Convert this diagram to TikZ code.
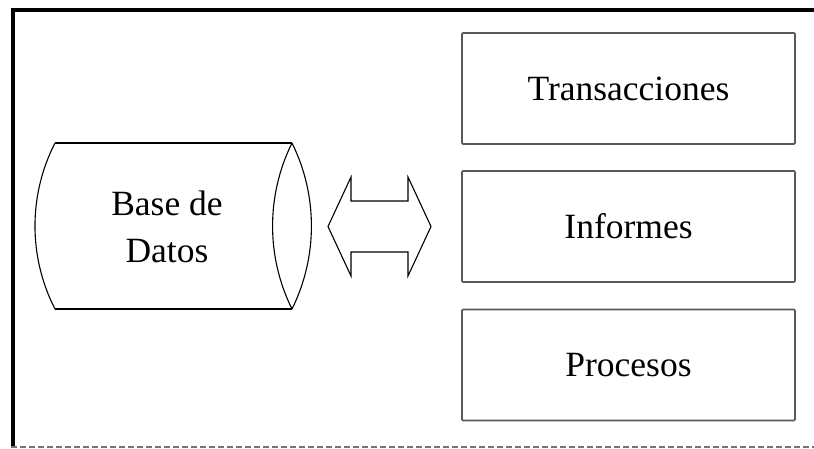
\documentclass[tikz,border=0pt]{standalone}
\usepackage{fontspec}
\setmainfont{Liberation Serif}
\begin{document}
\begin{tikzpicture}[x=1pt,y=-1pt,
  boxnode/.style={draw=black!65, line width=1.6pt, minimum width=333pt, minimum height=111pt, inner sep=0pt, rounded corners=1pt, font=\fontsize{35.5}{42}\selectfont},
  thinline/.style={draw=black, line width=1.1pt},
  frameline/.style={draw=black, line width=4pt}]
\useasboundingbox (0,0) rectangle (814,448);
% frame
\coordinate (tl) at (11,9.5);
\coordinate (tr) at (814,9.5);
\coordinate (lt) at (13,7.5);
\coordinate (lb) at (13,448);
\coordinate (bl) at (11,447);
\coordinate (br) at (814,447);
\draw[frameline] (tl) -- (tr);
\draw[frameline] (lt) -- (lb);
\draw[black!55, line width=1.4pt, dash pattern=on 6pt off 3pt] (bl) -- (br);
% cylinder
\coordinate (c1) at (55,143);
\coordinate (c2) at (292,143);
\coordinate (c3) at (55,309);
\coordinate (c4) at (292,309);
\draw[thinline] (c1) -- (c2);
\draw[thinline] (c3) -- (c4);
\draw[thinline] (c1) .. controls (28.3,195.1) and (28.3,256.9) .. (c3);
\draw[thinline] (c2) .. controls (266.1,195.2) and (266.1,256.8) .. (c4);
\draw[thinline] (c2) .. controls (317.9,195.2) and (317.9,256.8) .. (c4);
\node[align=center, font=\fontsize{35.5}{47}\selectfont] (db) at (167,227) {Base de\\Datos};
% double arrow
\draw[thinline] (328,226.5) -- (351,177) -- (351,201) -- (408,201) -- (408,177)
  -- (431,226.5) -- (408,276) -- (408,252) -- (351,252) -- (351,276) -- cycle;
% boxes
\node[boxnode] (trans) at (628.5,88.5) {Transacciones};
\node[boxnode] (info) at (628.5,226.5) {Informes};
\node[boxnode] (proc) at (628.5,365) {Procesos};
\end{tikzpicture}
\end{document}
